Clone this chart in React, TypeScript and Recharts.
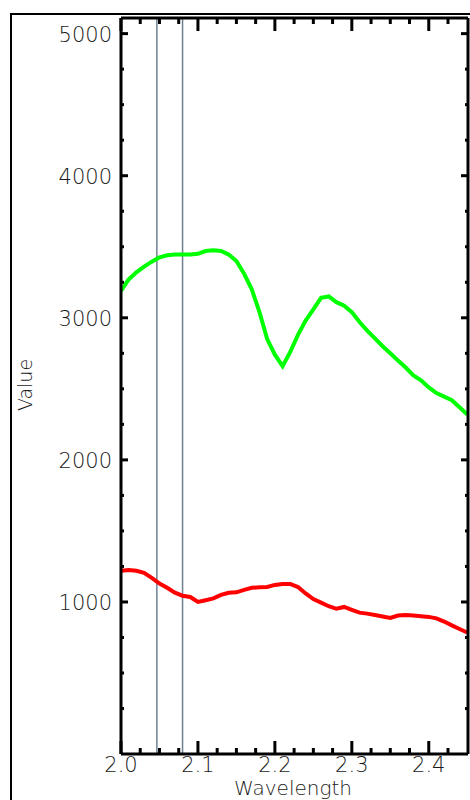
import React from "react"
import { LineChart, Line, XAxis, YAxis, ReferenceLine, Label } from "recharts"

const WAVE = [
  2.0, 2.01, 2.02, 2.03, 2.04, 2.05, 2.06, 2.07, 2.08, 2.09,
  2.1, 2.11, 2.12, 2.13, 2.14, 2.15, 2.16, 2.17, 2.18, 2.19,
  2.2, 2.21, 2.22, 2.23, 2.24, 2.25, 2.26, 2.27, 2.28, 2.29,
  2.3, 2.31, 2.32, 2.33, 2.34, 2.35, 2.36, 2.37, 2.38, 2.39,
  2.4, 2.41, 2.42, 2.43, 2.44, 2.45,
]

const GREEN = [
  3190, 3270, 3320, 3360, 3395, 3425, 3440, 3445, 3445, 3445,
  3450, 3470, 3475, 3470, 3445, 3400, 3310, 3200, 3040, 2850,
  2740, 2660, 2760, 2880, 2980, 3060, 3140, 3150, 3110, 3085,
  3040, 2970, 2910, 2855, 2800, 2750, 2700, 2650, 2595, 2560,
  2510, 2470, 2445, 2420, 2370, 2320,
]

const RED = [
  1220, 1225, 1220, 1205, 1170, 1130, 1100, 1065, 1044, 1035,
  1000, 1012, 1025, 1050, 1065, 1068, 1085, 1100, 1103, 1105,
  1120, 1127, 1127, 1105, 1060, 1020, 995, 970, 952, 965,
  945, 925, 918, 908, 898, 888, 905, 908, 905, 900,
  895, 885, 862, 835, 810, 785,
]

const X_TICKS = [
  2.0, 2.025, 2.05, 2.075, 2.1, 2.125, 2.15, 2.175, 2.2, 2.225,
  2.25, 2.275, 2.3, 2.325, 2.35, 2.375, 2.4, 2.425,
]
const X_LABELS = [2.0, 2.1, 2.2, 2.3, 2.4]

const Y_TICKS = [
  250, 500, 750, 1000, 1250, 1500, 1750, 2000, 2250, 2500,
  2750, 3000, 3250, 3500, 3750, 4000, 4250, 4500, 4750, 5000,
]
const Y_LABELS = [1000, 2000, 3000, 4000, 5000]

const MARKERS = [2.0466, 2.08]

const data = WAVE.map((w, i) => ({ w, green: GREEN[i], red: RED[i] }))

const FONT = "DejaVu Sans"
const TEXT = "#1a1a1a"
const WEIGHT = 200

function XTick(props: any) {
  const { x, y, payload, dir, showLabel } = props
  const v = payload.value
  const major = X_LABELS.some((m) => Math.abs(m - v) < 1e-6)
  const len = major ? 13 : 6
  return (
    <g>
      <line x1={x} y1={y} x2={x} y2={y + dir * len} stroke="#000" strokeWidth={3} />
      {showLabel && major && (
        <text x={x} y={y + 18} textAnchor="middle" fontFamily={FONT} fontWeight={WEIGHT} fontSize={21} fill={TEXT}>
          {v.toFixed(1)}
        </text>
      )}
    </g>
  )
}

function YTick(props: any) {
  const { x, y, payload, dir, showLabel } = props
  const v = payload.value
  const major = Y_LABELS.includes(v)
  const len = major ? 7 : 3
  return (
    <g>
      <line x1={x} y1={y} x2={x + dir * len} y2={y} stroke="#000" strokeWidth={3} />
      {showLabel && major && (
        <text x={x - 9} y={y + 8} textAnchor="end" fontFamily={FONT} fontWeight={WEIGHT} fontSize={21} fill={TEXT}>
          {v}
        </text>
      )}
    </g>
  )
}

export default function App() {
  return (
    <div style={{ position: "fixed", left: 0, top: 0, width: 470, height: 800, overflow: "hidden", background: "#fff" }}>
      <div
        style={{
          position: "absolute",
          left: 10,
          top: 13,
          width: 500,
          height: 820,
          border: "2px solid #000",
        }}
      />
      <div style={{ position: "absolute", left: 0, top: 0 }}>
        <LineChart width={470} height={800} data={data} margin={{ top: 0, right: 0, bottom: 0, left: 0 }}>
          <XAxis
            xAxisId="b"
            dataKey="w"
            type="number"
            domain={[2.0, 2.451]}
            allowDataOverflow
            ticks={X_TICKS}
            interval={0}
            tickSize={0}
            tickMargin={0}
            height={46}
            axisLine={{ stroke: "#000", strokeWidth: 3 }}
            tick={<XTick dir={-1} showLabel />}
          >
            <Label
              content={() => (
                <text x={293} y={795} textAnchor="middle" fontFamily={FONT} fontWeight={WEIGHT} fontSize={20} fill={TEXT}>
                  Wavelength
                </text>
              )}
            />
          </XAxis>
          <XAxis
            xAxisId="t"
            orientation="top"
            dataKey="w"
            type="number"
            domain={[2.0, 2.451]}
            allowDataOverflow
            ticks={X_TICKS}
            interval={0}
            tickSize={0}
            tickMargin={0}
            height={18}
            axisLine={{ stroke: "#000", strokeWidth: 3 }}
            tick={<XTick dir={1} />}
          />
          <YAxis
            yAxisId="l"
            type="number"
            domain={[-70, 5110]}
            allowDataOverflow
            ticks={Y_TICKS}
            interval={0}
            tickSize={0}
            tickMargin={0}
            width={121}
            axisLine={{ stroke: "#000", strokeWidth: 3 }}
            tick={<YTick dir={1} showLabel />}
          >
            <Label
              content={() => (
                <text
                  x={32}
                  y={385}
                  transform="rotate(-90, 32, 385)"
                  textAnchor="middle"
                  fontFamily={FONT}
                  fontWeight={WEIGHT}
                  fontSize={19}
                  fill={TEXT}
                >
                  Value
                </text>
              )}
            />
          </YAxis>
          <YAxis
            yAxisId="r"
            orientation="right"
            type="number"
            domain={[-70, 5110]}
            allowDataOverflow
            ticks={Y_TICKS}
            interval={0}
            tickSize={0}
            tickMargin={0}
            width={2}
            axisLine={{ stroke: "#000", strokeWidth: 3 }}
            tick={<YTick dir={-1} />}
          />
          {MARKERS.map((m) => (
            <ReferenceLine key={m} x={m} xAxisId="b" yAxisId="l" stroke="#6f7f90" strokeWidth={1.5} />
          ))}
          <Line
            xAxisId="b"
            yAxisId="l"
            dataKey="green"
            type="linear"
            stroke="#00ff00"
            strokeWidth={4}
            dot={false}
            isAnimationActive={false}
          />
          <Line
            xAxisId="b"
            yAxisId="l"
            dataKey="red"
            type="linear"
            stroke="#ff0000"
            strokeWidth={4}
            dot={false}
            isAnimationActive={false}
          />
        </LineChart>
      </div>
    </div>
  )
}
